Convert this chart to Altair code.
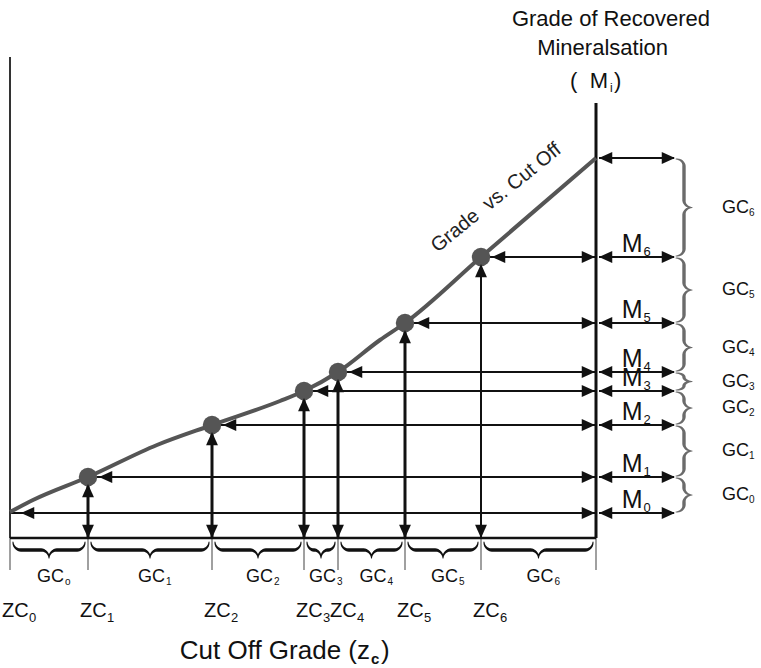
import altair as alt
import numpy as np
import pandas as pd

# Cut-off grades zc0 ... zc6 and the grade of recovered mineralisation M0 ... M6 at each cut-off
zc = [0.00, 0.78, 2.02, 2.94, 3.28, 3.95, 4.71]
m = [0.25, 0.61, 1.13, 1.47, 1.66, 2.15, 2.81]
m_top = 3.80          # grade where the curve meets the grade axis
z_end = 5.86          # right end of the cut-off axis (position of the grade axis)
left_axis_top = 4.81
right_axis_top = 4.35

# Grade vs. cut-off curve
curve_z = [0.00, 0.23, 0.78, 1.47, 2.02, 2.70, 2.94, 3.28, 3.70, 3.95, 4.71, 5.86]
curve_m = [0.26, 0.38, 0.61, 0.93, 1.13, 1.37, 1.47, 1.66, 1.98, 2.15, 2.81, 3.80]

subs = ["0", "1", "2", "3", "4", "5", "6"]
gc_bottom_subs = ["o", "1", "2", "3", "4", "5", "6"]

PX = 0.01            # data units per screen pixel (both axes)
FONT = "Liberation Sans"
INK = "#111111"
GREY = "#555555"

xs = alt.Scale(domain=[-0.10, 7.51], nice=False, zero=False)
ys = alt.Scale(domain=[-1.30, 5.38], nice=False, zero=False)


def X(f="x"):
    return alt.X(f"{f}:Q", scale=xs, axis=None)


def Y(f="y"):
    return alt.Y(f"{f}:Q", scale=ys, axis=None)


def seg(df, **kw):
    return alt.Chart(df).mark_rule(**kw).encode(x=X(), y=Y(), x2="x2:Q", y2="y2:Q")


RIGHT = "M0,0L-1,-0.45L-1,0.45Z"
LEFT = "M0,0L1,-0.45L1,0.45Z"
UP = "M0,0L-0.45,1L0.45,1Z"
DOWN = "M0,0L-0.45,-1L0.45,-1Z"


def heads(df, shape, **off):
    return alt.Chart(df).mark_point(
        shape=shape, size=700, filled=True, color=INK, opacity=1, strokeWidth=0, **off
    ).encode(x=X(), y=Y())


def text(df, **kw):
    kw.setdefault("color", INK)
    kw.setdefault("font", FONT)
    kw.setdefault("baseline", "alphabetic")
    return alt.Chart(df).mark_text(**kw).encode(x=X(), y=Y(), text="t:N")


levels = m + [m_top]
n = len(zc)

# ---- curve and frame -------------------------------------------------------
curve = alt.Chart(pd.DataFrame({"x": curve_z, "y": curve_m, "o": range(len(curve_z))})).mark_line(
    color=GREY, strokeWidth=4, interpolate="monotone"
).encode(x=X(), y=Y(), order="o:Q")

left_axis = seg(pd.DataFrame({"x": [0], "x2": [0], "y": [0], "y2": [left_axis_top]}), color="#333333", strokeWidth=2)
bottom_axis = seg(pd.DataFrame({"x": [0], "x2": [z_end], "y": [0], "y2": [0]}), color=INK, strokeWidth=2.5)
right_axis = seg(pd.DataFrame({"x": [z_end], "x2": [z_end], "y": [0], "y2": [right_axis_top]}), color=INK, strokeWidth=3)

tick_x = zc + [z_end]
ticks = seg(pd.DataFrame({"x": tick_x, "x2": tick_x, "y": [0] * len(tick_x), "y2": [-0.32] * len(tick_x)}),
            color="#808080", strokeWidth=1.5)

# ---- arrows ----------------------------------------------------------------
hor = pd.DataFrame({"x": zc, "x2": [z_end] * n, "y": m, "y2": m})
hor_lines = seg(hor, color=INK, strokeWidth=2)

ver = pd.DataFrame({"x": zc[1:], "x2": zc[1:], "y": [0] * (n - 1), "y2": m[1:], "i": list(range(1, n))})
ver_lines = alt.Chart(ver).mark_rule(color=INK).encode(
    x=X(), y=Y(), x2="x2:Q", y2="y2:Q",
    strokeWidth=alt.condition("datum.i == 6", alt.value(2), alt.value(3)),
)

right_arrows = pd.DataFrame({"x": [z_end + 0.03] * len(levels), "x2": [z_end + 0.78] * len(levels),
                             "y": levels, "y2": levels})
right_lines = seg(right_arrows, color=INK, strokeWidth=2)

dots = alt.Chart(pd.DataFrame({"x": zc[1:], "y": m[1:]})).mark_circle(size=340, color=GREY, opacity=1).encode(
    x=X(), y=Y()
)

arrow_heads = [
    heads(pd.DataFrame({"x": zc, "y": m}), LEFT, xOffset=11),
    heads(pd.DataFrame({"x": [z_end] * n, "y": m}), RIGHT, xOffset=-1),
    heads(pd.DataFrame({"x": zc[1:], "y": m[1:]}), UP, yOffset=7),
    heads(pd.DataFrame({"x": zc[1:], "y": [0] * (n - 1)}), DOWN),
    heads(pd.DataFrame({"x": [z_end + 0.03] * len(levels), "y": levels}), LEFT),
    heads(pd.DataFrame({"x": [z_end + 0.79] * len(levels), "y": levels}), RIGHT),
]


# ---- curly braces ------------------------------------------------------------
def brace(L, h, r, k=10):
    t = np.linspace(0, np.pi / 2, k)
    curl = np.column_stack([r * (1 - np.cos(t)), h / 2 * np.sin(t)])
    cusp = np.column_stack([L / 2 - r + r * np.sin(t), h / 2 + h / 2 * (1 - np.cos(t))])
    half = np.vstack([curl, cusp])
    w_half = np.concatenate([np.linspace(1.0, 3.4, k), np.linspace(3.4, 1.0, k)])
    other = np.column_stack([L - half[::-1, 0], half[::-1, 1]])
    return np.vstack([half, other]), np.concatenate([w_half, w_half[::-1]])


bounds = zc + [z_end]
rows = []
for i in range(n):
    L = (bounds[i + 1] - bounds[i]) / PX - 6
    pts, w = brace(L, 16, min(8, L / 4))
    for j, ((u, v), ww) in enumerate(zip(pts, w)):
        rows.append({"id": i, "o": j, "x": bounds[i] + (3 + u) * PX, "y": -0.04 - v * PX, "w": ww})
bottom_braces = alt.Chart(pd.DataFrame(rows)).mark_trail(color=INK).encode(
    x=X(), y=Y(), order="o:Q", detail="id:N", size=alt.Size("w:Q", scale=None, legend=None)
)

rows = []
for i in range(n):
    lo, hi = levels[i], levels[i + 1]
    L = (hi - lo) / PX - 2
    pts, w = brace(L, 16, min(7, L / 4))
    for j, ((u, v), ww) in enumerate(zip(pts, w)):
        rows.append({"id": i, "o": j, "x": z_end + 0.80 + v * PX, "y": hi - (1 + u) * PX, "w": ww})
right_braces = alt.Chart(pd.DataFrame(rows)).mark_trail(color="#6b6b6b").encode(
    x=X(), y=Y(), order="o:Q", detail="id:N", size=alt.Size("w:Q", scale=None, legend=None)
)

# ---- labels ------------------------------------------------------------------
zc_row = -0.79
zc_main = text(pd.DataFrame({"x": zc, "y": [zc_row] * n, "t": ["ZC"] * n}), fontSize=20, align="left", dx=-8)
zc_sub = text(pd.DataFrame({"x": zc, "y": [zc_row] * n, "t": subs}), fontSize=13, align="left", dx=19, dy=5)

gc_row = -0.44
gc_mid = [(bounds[i] + bounds[i + 1]) / 2 for i in range(n)]
gcb_main = text(pd.DataFrame({"x": gc_mid, "y": [gc_row] * n, "t": ["GC"] * n}), fontSize=18, align="right", dx=15)
gcb_sub = text(pd.DataFrame({"x": gc_mid, "y": [gc_row] * n, "t": gc_bottom_subs}), fontSize=10, align="left",
               dx=16, dy=3)

gc_col = z_end + 1.26
gcr_mid = [(levels[i] + levels[i + 1]) / 2 for i in range(n)]
gcr_main = text(pd.DataFrame({"x": [gc_col] * n, "y": gcr_mid, "t": ["GC"] * n}), fontSize=18, align="left",
                baseline="middle")
gcr_sub = text(pd.DataFrame({"x": [gc_col] * n, "y": gcr_mid, "t": subs}), fontSize=10, align="left",
               baseline="middle", dx=27, dy=5)

m_col = z_end + 0.405
m_main = text(pd.DataFrame({"x": [m_col] * n, "y": m, "t": ["M"] * n}), fontSize=25, align="right", dx=6, dy=-5)
m_sub = text(pd.DataFrame({"x": [m_col] * n, "y": m, "t": subs}), fontSize=13, align="left", dx=7, dy=-1)

# Grade-axis title
title_1 = text(pd.DataFrame({"x": [z_end + 1.14], "y": [5.12], "t": ["Grade of Recovered"]}), fontSize=22,
               align="right")
title_2 = text(pd.DataFrame({"x": [z_end + 0.72], "y": [4.83], "t": ["Mineralsation"]}), fontSize=22, align="right")
title_3 = text(pd.DataFrame({"x": [z_end + 0.12], "y": [4.50], "t": ["(\u00a0\u00a0M"]}), fontSize=22, align="right")
title_3s = text(pd.DataFrame({"x": [z_end + 0.14], "y": [4.50], "t": ["i"]}), fontSize=12, align="left", dy=4)
title_3e = text(pd.DataFrame({"x": [z_end + 0.18], "y": [4.50], "t": [")"]}), fontSize=22, align="left")

# Cut-off axis title
cut_x = 3.60
cut_1 = text(pd.DataFrame({"x": [cut_x], "y": [-1.21], "t": ["Cut Off Grade (z"]}), fontSize=26, align="right")
cut_2 = text(pd.DataFrame({"x": [cut_x], "y": [-1.21], "t": ["c"]}), fontSize=15, fontWeight="bold", align="left",
             dx=1, dy=5)
cut_3 = text(pd.DataFrame({"x": [cut_x], "y": [-1.21], "t": [")"]}), fontSize=26, align="left", dx=11)

# Curve label, set along the last section of the curve
t_lab = 0.33
lab_x = zc[6] + t_lab * (z_end - zc[6])
lab_y = m[6] + t_lab * (m_top - m[6])
curve_label = text(pd.DataFrame({"x": [lab_x], "y": [lab_y], "t": ["Grade\u00a0 vs. Cut Off"]}), fontSize=20,
                   align="center", baseline="middle", angle=321, dx=-1, dy=-35, color="#222222")

layers = [
    ticks, bottom_braces, right_braces,
    hor_lines, ver_lines, right_lines,
    left_axis, bottom_axis, right_axis,
    curve, dots, *arrow_heads,
    zc_main, zc_sub, gcb_main, gcb_sub, gcr_main, gcr_sub, m_main, m_sub,
    title_1, title_2, title_3, title_3s, title_3e, cut_1, cut_2, cut_3, curve_label,
]

chart = alt.layer(*layers).properties(
    width=761, height=668, padding=0, autosize=alt.AutoSizeParams(type="none"), background="white"
).configure_view(stroke=None)

chart.save("out.html", embed_options={"renderer": "svg", "actions": False})
